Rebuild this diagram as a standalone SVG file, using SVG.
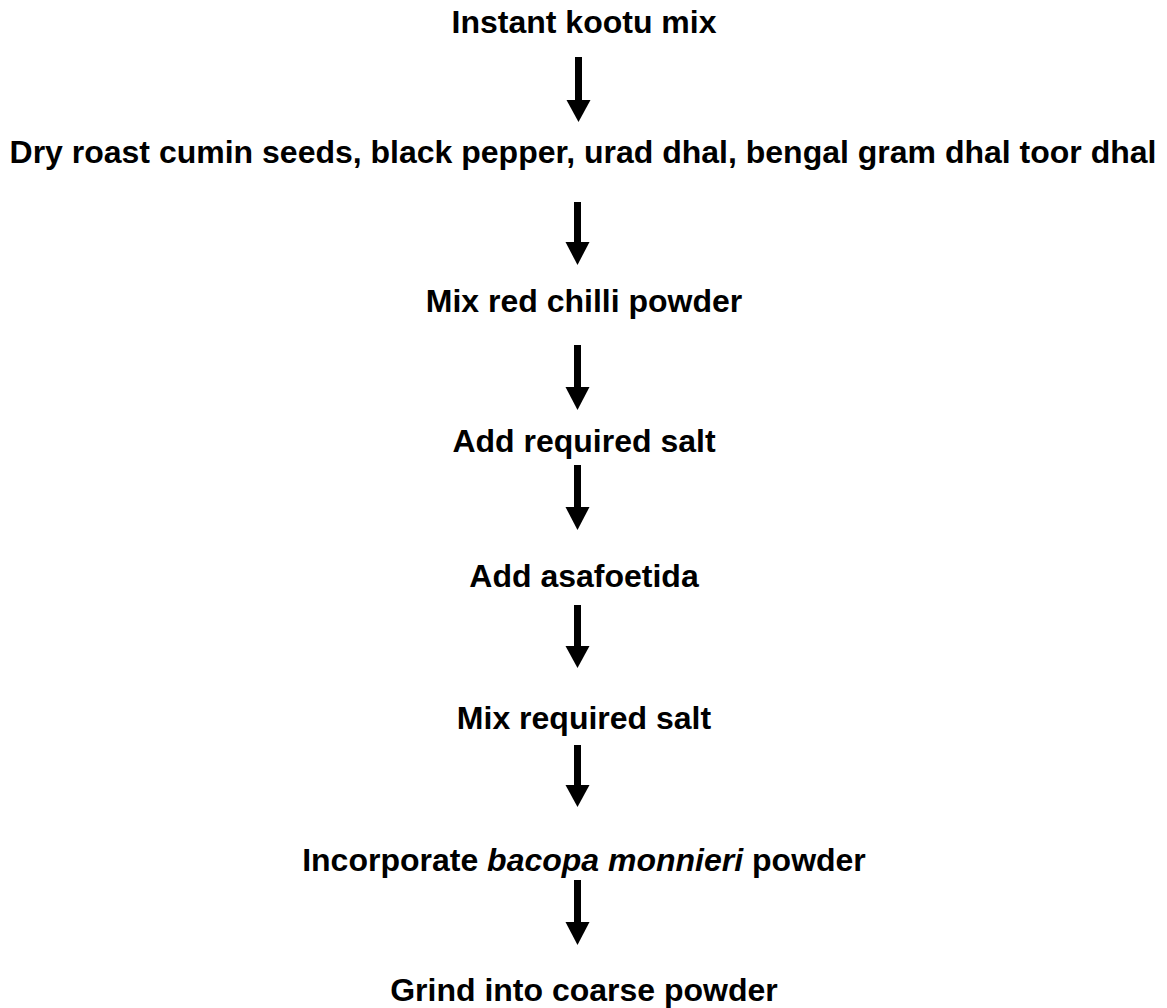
<svg xmlns="http://www.w3.org/2000/svg" width="1167" height="1008" viewBox="0 0 1167 1008">
<defs>
<style>
text{font-family:"Liberation Sans",Arial,sans-serif;font-weight:bold;font-size:32px;fill:#000;text-anchor:middle}
.shaft{fill:#000}
.head{fill:#000}
</style>
</defs>
<rect width="1167" height="1008" fill="#fff"/>
<g id="connectors">
<rect class="shaft" x="575" y="57" width="7" height="44"/><path class="head" d="M566.5 100 L590.5 100 L578.5 122 Z"/>
<rect class="shaft" x="574" y="202" width="7" height="41"/><path class="head" d="M565.5 242 L589.5 242 L577.5 265 Z"/>
<rect class="shaft" x="574" y="345" width="7" height="43"/><path class="head" d="M565.5 387 L589.5 387 L577.5 410 Z"/>
<rect class="shaft" x="574" y="465" width="7" height="43"/><path class="head" d="M565.5 507 L589.5 507 L577.5 530 Z"/>
<rect class="shaft" x="574" y="605" width="7" height="43"/><path class="head" d="M565.5 646 L589.5 646 L577.5 668 Z"/>
<rect class="shaft" x="574" y="745" width="7" height="41"/><path class="head" d="M565.5 785 L589.5 785 L577.5 807 Z"/>
<rect class="shaft" x="574" y="880" width="7" height="43"/><path class="head" d="M565.5 922 L589.5 922 L577.5 945 Z"/>
</g>
<g id="n1"><text x="584" y="33">Instant kootu mix</text></g>
<g id="n2"><text x="583" y="163">Dry roast cumin seeds, black pepper, urad dhal, bengal gram dhal toor dhal</text></g>
<g id="n3"><text x="584" y="312">Mix red chilli powder</text></g>
<g id="n4"><text x="584" y="452">Add required salt</text></g>
<g id="n5"><text x="584" y="587">Add asafoetida</text></g>
<g id="n6"><text x="584" y="729">Mix required salt</text></g>
<g id="n7"><text x="584" y="871">Incorporate <tspan font-style="italic">bacopa monnieri</tspan> powder</text></g>
<g id="n8"><text x="584" y="1001">Grind into coarse powder</text></g>
</svg>
